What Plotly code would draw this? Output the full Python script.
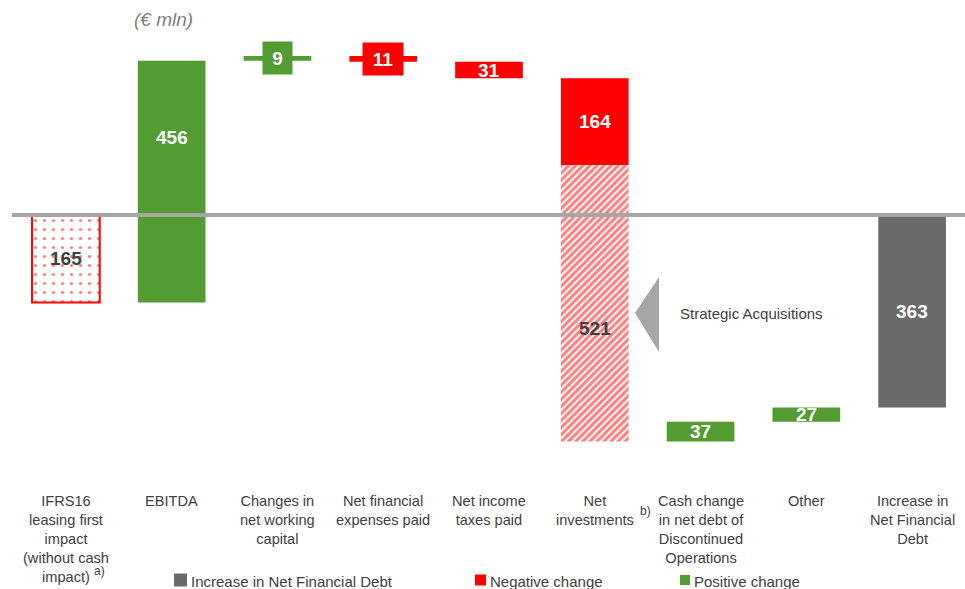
import plotly.graph_objects as go

# categories along the x axis
categories = [
    "IFRS16<br>leasing first<br>impact<br>(without cash<br>impact)",
    "EBITDA",
    "Changes in<br>net working<br>capital",
    "Net financial<br>expenses paid",
    "Net income<br>taxes paid",
    "Net<br>investments",
    "Cash change<br>in net debt of<br>Discontinued<br>Operations",
    "Other",
    "Increase in<br>Net Financial<br>Debt",
]

# waterfall steps (category index, value, kind)
step_cat = [0, 1, 2, 3, 4, 5, 5, 6, 7]
step_val = [-165, 456, 9, -11, -31, -164, -521, 37, 27]
step_kind = ["ifrs16", "pos", "pos", "neg", "neg", "neg", "acq", "pos", "pos"]
total_cat = 8

GREEN = "#529c31"
RED = "#ff0000"
GREY = "#6b6b6b"
TEXT = "#404040"
FONT = "Liberation Sans, Arial, sans-serif"

W, H = 965, 589
ML, MB = 13, 129
PW, PH = W - ML, H - MB


def px(x):
    return (x - ML) / PW


def py(y):
    return (PH - y) / PH


def note(fig, x, y, text, size, color=TEXT, xanchor="center"):
    fig.add_annotation(x=px(x), y=py(y), xref="paper", yref="paper",
                       xanchor=xanchor, yanchor="middle", text=text, showarrow=False,
                       font=dict(family=FONT, size=size, color=color))


# build bars from the steps
bars = {k: dict(x=[], base=[], y=[]) for k in ["ifrs16", "pos", "neg", "acq", "total"]}
labels = []
running = 0
for c, v, k in zip(step_cat, step_val, step_kind):
    start, end = running, running + v
    running = end
    lo, hi = min(start, end), max(start, end)
    bars[k]["x"].append(c)
    bars[k]["base"].append(lo)
    bars[k]["y"].append(hi - lo)
    labels.append((c, lo, hi, abs(v), k))
bars["total"]["x"].append(total_cat)
bars["total"]["base"].append(running)
bars["total"]["y"].append(-running)
labels.append((total_cat, running, 0, abs(running), "total"))

fig = go.Figure()
fig.add_trace(go.Bar(x=bars["ifrs16"]["x"], base=bars["ifrs16"]["base"], y=bars["ifrs16"]["y"],
                     width=0.64,
                     marker=dict(color="white", line=dict(color=RED, width=2),
                                 pattern=dict(shape=".", fgcolor=RED, bgcolor="white",
                                              size=9, solidity=0.1))))
fig.add_trace(go.Bar(x=bars["pos"]["x"], base=bars["pos"]["base"], y=bars["pos"]["y"],
                     width=0.64, marker=dict(color=GREEN, line=dict(width=0))))
fig.add_trace(go.Bar(x=bars["neg"]["x"], base=bars["neg"]["base"], y=bars["neg"]["y"],
                     width=0.64, marker=dict(color=RED, line=dict(width=0))))
fig.add_trace(go.Bar(x=bars["acq"]["x"], base=bars["acq"]["base"], y=bars["acq"]["y"],
                     width=0.64,
                     marker=dict(color="white", line=dict(width=0),
                                 pattern=dict(shape="/", fgcolor=RED, bgcolor="white",
                                              size=5, solidity=0.6))))
fig.add_trace(go.Bar(x=bars["total"]["x"], base=bars["total"]["base"], y=bars["total"]["y"],
                     width=0.64, marker=dict(color=GREY, line=dict(width=0))))

# value labels
for c, lo, hi, val, k in labels:
    if lo < 0 < hi:
        ymid = hi / 2 if hi > -lo else lo / 2
    else:
        ymid = (lo + hi) / 2
    txt = "<b>%d</b>" % val
    if k in ("ifrs16", "acq"):
        fig.add_annotation(x=c, y=ymid, text=txt, showarrow=False,
                           font=dict(family=FONT, size=19, color=TEXT))
    elif val < 15:
        fig.add_annotation(x=c, y=ymid, text=txt, showarrow=False,
                           font=dict(family=FONT, size=19, color="white"),
                           bgcolor=GREEN if k == "pos" else RED,
                           width=len(str(val)) * 11 + 18, height=32, borderpad=0)
    else:
        fig.add_annotation(x=c, y=ymid, text=txt, showarrow=False,
                           font=dict(family=FONT, size=19, color="white"))

# category labels
for i, cat in enumerate(categories):
    fig.add_annotation(x=i, y=0, yref="paper", yanchor="top", yshift=-31,
                       text=cat, showarrow=False, align="center",
                       font=dict(family=FONT, size=14.6, color=TEXT))
note(fig, 99, 571, "a)", 12)
note(fig, 645, 511, "b)", 12)

# zero line
fig.add_shape(type="line", xref="paper", x0=px(12), x1=1, y0=0, y1=0,
              line=dict(color="#a6a6a6", width=4), layer="above")

# strategic acquisitions callout
fig.add_shape(type="path", xref="paper", yref="paper",
              path="M %f,%f L %f,%f L %f,%f Z" % (px(635), py(313), px(659), py(277),
                                                    px(659), py(352)),
              fillcolor="#a6a6a6", line=dict(width=0), layer="above")
note(fig, 678, 313, "Strategic Acquisitions", 15, xanchor="left")

# unit note
note(fig, 163, 20, "<i>(€ mln)</i>", 19, color="#7f7f7f")

# legend
legend_items = [("Increase in Net Financial Debt", GREY, 174, 13),
                ("Negative change", RED, 475, 11),
                ("Positive change", GREEN, 680, 10)]
for name, col, x0, s in legend_items:
    fig.add_shape(type="rect", xref="paper", yref="paper",
                  x0=px(x0), x1=px(x0 + s), y0=py(580 - s / 2), y1=py(580 + s / 2),
                  fillcolor=col, line=dict(width=0))
    note(fig, x0 + s + 2, 581, name, 15, xanchor="left")

fig.update_layout(
    width=W, height=H,
    margin=dict(l=ML, r=0, t=0, b=MB),
    barmode="overlay",
    showlegend=False,
    plot_bgcolor="white",
    paper_bgcolor="white",
    xaxis=dict(range=[-0.5, 8.5], visible=False),
    yaxis=dict(range=[-462, 405.7], visible=False),
)

# the page body has a default margin; drop it so the figure sits at the window corner
fig.write_html("out.html", config={"displayModeBar": False},
               post_script="document.body.style.margin='0';")
